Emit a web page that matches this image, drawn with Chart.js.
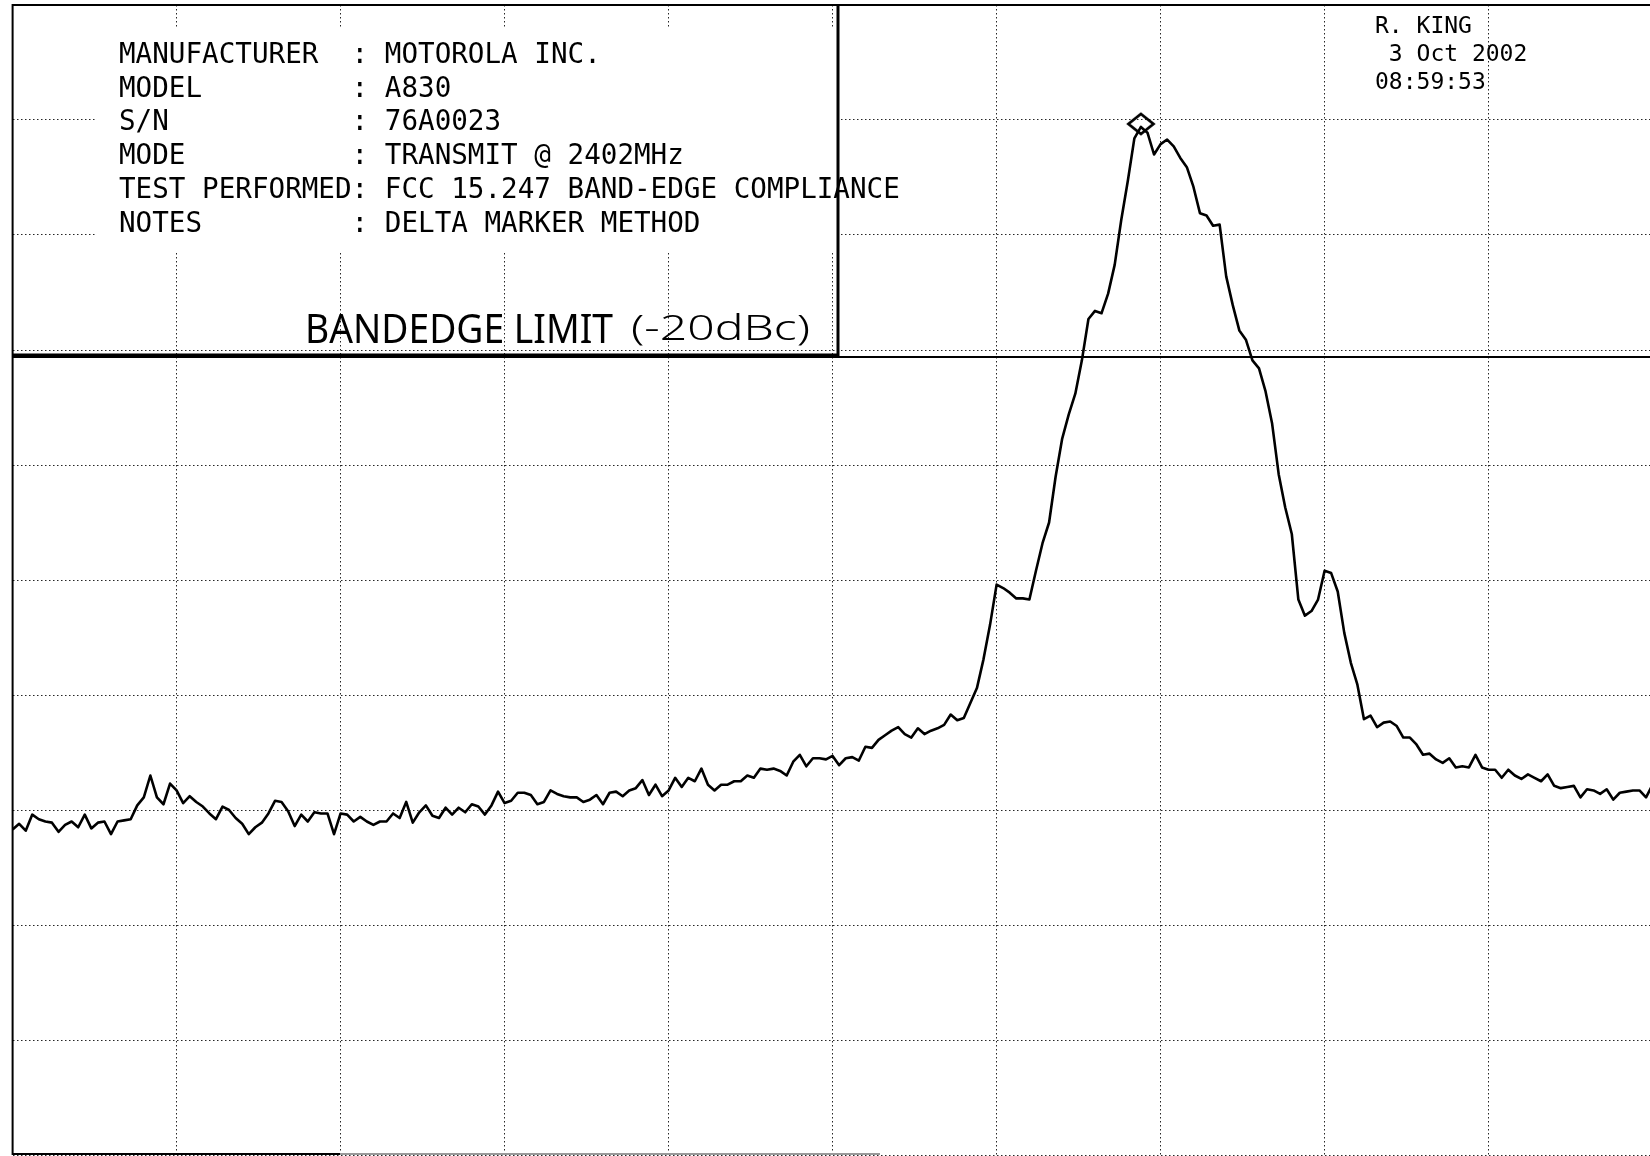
<!DOCTYPE html>
<html>
<head>
<meta charset="utf-8">
<title>FCC 15.247 Band-Edge Compliance – Motorola A830</title>
<script src="https://cdn.jsdelivr.net/npm/chart.js@4.4.1/dist/chart.umd.min.js"></script>
<style>
  html, body { margin: 0; padding: 0; background: #fff; overflow: hidden; }
  #wrap { position: absolute; left: 0; top: 0; width: 1656px; height: 1156px; }
  canvas { display: block; }
</style>
</head>
<body>
<div id="wrap"><canvas id="plot" width="1656" height="1156"></canvas></div>
<script>
// Sweep: 10 MHz span centred on the 2400 MHz band edge, 1 MHz / div, 10 dB / div
const startMHz = 2395;
const stopMHz = 2405;
const gridStepMHz = 1;
const refLevelDb = 0;
const bottomLevelDb = -100;
const gridStepDb = 10;

// Trace level at each sweep point (dB), 251 points across the span
const levelsDb = [
  -71.7, -71.2, -71.8, -70.4, -70.8, -71.0, -71.1, -71.9, -71.3, -71.0,
  -71.5, -70.4, -71.6, -71.1, -71.0, -72.1, -71.0, -70.9, -70.8, -69.6,
  -68.9, -67.0, -68.9, -69.5, -67.7, -68.3, -69.4, -68.8, -69.3, -69.7,
  -70.3, -70.8, -69.7, -70.0, -70.7, -71.2, -72.1, -71.5, -71.1, -70.3,
  -69.2, -69.3, -70.1, -71.4, -70.4, -71.0, -70.2, -70.3, -70.3, -72.1,
  -70.3, -70.4, -71.0, -70.6, -71.0, -71.3, -71.0, -71.0, -70.3, -70.7,
  -69.3, -71.1, -70.2, -69.6, -70.5, -70.7, -69.8, -70.4, -69.8, -70.2,
  -69.5, -69.7, -70.4, -69.6, -68.4, -69.4, -69.2, -68.5, -68.5, -68.7,
  -69.5, -69.3, -68.3, -68.6, -68.8, -68.9, -68.9, -69.3, -69.1, -68.7,
  -69.5, -68.5, -68.4, -68.8, -68.3, -68.1, -67.4, -68.7, -67.8, -68.8,
  -68.3, -67.2, -68.0, -67.2, -67.5, -66.4, -67.8, -68.3, -67.8, -67.8,
  -67.5, -67.5, -67.0, -67.2, -66.4, -66.5, -66.4, -66.6, -67.0, -65.8,
  -65.2, -66.2, -65.5, -65.5, -65.6, -65.3, -66.1, -65.5, -65.4, -65.7,
  -64.5, -64.6, -63.9, -63.5, -63.1, -62.8, -63.4, -63.7, -62.9, -63.4,
  -63.1, -62.9, -62.6, -61.7, -62.2, -62.0, -60.7, -59.4, -56.9, -53.9,
  -50.4, -50.7, -51.1, -51.6, -51.6, -51.7, -49.2, -46.8, -45.0, -41.0,
  -37.7, -35.6, -33.8, -30.9, -27.3, -26.6, -26.8, -25.1, -22.6, -18.7,
  -15.3, -11.6, -10.6, -11.1, -13.0, -12.1, -11.7, -12.3, -13.3, -14.1,
  -15.8, -18.1, -18.3, -19.2, -19.1, -23.6, -26.1, -28.3, -29.1, -30.9,
  -31.6, -33.6, -36.4, -40.8, -43.7, -46.0, -51.7, -53.1, -52.7, -51.7,
  -49.2, -49.4, -51.0, -54.6, -57.2, -59.1, -62.1, -61.8, -62.8, -62.4,
  -62.3, -62.7, -63.7, -63.7, -64.3, -65.2, -65.1, -65.6, -65.9, -65.5,
  -66.3, -66.2, -66.3, -65.2, -66.3, -66.5, -66.5, -67.2, -66.5, -67.0,
  -67.3, -66.9, -67.2, -67.5, -66.9, -67.9, -68.1, -68.0, -67.9, -68.9,
  -68.2, -68.3, -68.6, -68.2, -69.1, -68.5, -68.4, -68.3, -68.3, -68.9, -67.8
];

// Band-edge limit sits 20 dB below the marker peak
const limitOffsetDbc = -20;

// Annotation text
const headerFields = ['MANUFACTURER', 'MODEL', 'S/N', 'MODE', 'TEST PERFORMED', 'NOTES'];
const headerValues = ['MOTOROLA INC.', 'A830', '76A0023', 'TRANSMIT @ 2402MHz',
                      'FCC 15.247 BAND-EDGE COMPLIANCE', 'DELTA MARKER METHOD'];
const stampLines = ['R. KING', ' 3 Oct 2002', '08:59:53'];
const limitNote = 'BANDEDGE LIMIT';
const limitNoteDbc = '(-20dBc)';

// ---- derived series ----
const stepMHz = (stopMHz - startMHz) / (levelsDb.length - 1);
const trace = levelsDb.map((y, i) => ({ x: startMHz + i * stepMHz, y }));
let peakIdx = 0;
levelsDb.forEach((v, i) => { if (v > levelsDb[peakIdx]) peakIdx = i; });
const peakPoint = trace[peakIdx];
const limitDb = peakPoint.y + limitOffsetDbc;
const limitLine = [{ x: startMHz, y: limitDb }, { x: stopMHz, y: limitDb }];

// Diamond marker glyph (drawn a little above its centre, like the analyser's marker)
function makeDiamond() {
  const c = document.createElement('canvas');
  c.width = 32; c.height = 32;
  const g = c.getContext('2d');
  g.strokeStyle = '#000';
  g.lineWidth = 2.8;
  g.lineJoin = 'miter';
  const cx = 16, cy = 13, hw = 12.5, hh = 10;
  g.beginPath();
  g.moveTo(cx, cy - hh); g.lineTo(cx + hw, cy); g.lineTo(cx, cy + hh); g.lineTo(cx - hw, cy);
  g.closePath();
  g.stroke();
  return c;
}

// Fit a string into a given width by scaling horizontally
function fitText(ctx, text, x, baseline, width, font) {
  ctx.save();
  ctx.font = font;
  const w = ctx.measureText(text).width;
  ctx.translate(x, baseline);
  ctx.scale(width / w, 1);
  ctx.fillText(text, 0, 0);
  ctx.restore();
}

// Header panel, graticule frame and annotations
const panelPlugin = {
  id: 'panel',
  afterDraw(chart) {
    const { ctx, chartArea: a } = chart;
    const panelRight = 838, panelBottom = 355;
    ctx.save();

    // blank the graticule behind the text block
    ctx.fillStyle = '#fff';
    ctx.fillRect(95, 27, panelRight - 96, 252 - 27);

    // panel outline
    ctx.strokeStyle = '#000';
    ctx.lineWidth = 3;
    ctx.beginPath();
    ctx.moveTo(panelRight, a.top);
    ctx.lineTo(panelRight, panelBottom);
    ctx.lineTo(a.left, panelBottom);
    ctx.stroke();

    // graticule frame
    ctx.lineWidth = 2;
    ctx.beginPath();
    ctx.moveTo(a.left, a.bottom);
    ctx.lineTo(a.left, a.top);
    ctx.lineTo(a.right, a.top);
    ctx.stroke();
    ctx.beginPath();
    ctx.moveTo(a.left, a.bottom - 1);
    ctx.lineTo(340, a.bottom - 1);
    ctx.stroke();
    ctx.strokeStyle = '#999';
    ctx.beginPath();
    ctx.moveTo(340, a.bottom - 1);
    ctx.lineTo(880, a.bottom - 1);
    ctx.stroke();

    // header text block
    ctx.fillStyle = '#000';
    ctx.textBaseline = 'alphabetic';
    ctx.textAlign = 'left';
    ctx.font = '27.6px "DejaVu Sans Mono", "Liberation Mono", monospace';
    headerFields.forEach((f, i) => {
      const line = f.padEnd(14, ' ') + ': ' + headerValues[i];
      ctx.fillText(line, 119, 63 + i * 33.7);
    });

    // operator / date stamp
    ctx.font = '23px "DejaVu Sans Mono", "Liberation Mono", monospace';
    stampLines.forEach((s, i) => ctx.fillText(s, 1375, 33 + i * 27.8));

    // hand-written limit note
    fitText(ctx, limitNote, 305, 343, 308, '40px "Noto Sans", "DejaVu Sans", sans-serif');
    fitText(ctx, limitNoteDbc, 631, 340, 179, '300 34px "Noto Sans", "DejaVu Sans", sans-serif');

    ctx.restore();
  }
};

const gridColor = 'rgba(0,0,0,0.85)';

new Chart(document.getElementById('plot'), {
  type: 'line',
  data: {
    datasets: [
      {
        label: 'Marker',
        data: [peakPoint],
        showLine: false,
        pointStyle: makeDiamond(),
        pointRadius: 13,
        order: 1
      },
      {
        label: 'Trace',
        data: trace,
        borderColor: '#000',
        borderWidth: 2.6,
        borderJoinStyle: 'round',
        pointRadius: 0,
        tension: 0,
        fill: false,
        order: 2
      },
      {
        label: 'Limit',
        data: limitLine,
        borderColor: '#000',
        borderWidth: 2,
        pointRadius: 0,
        fill: false,
        order: 3
      }
    ]
  },
  options: {
    responsive: false,
    animation: false,
    events: [],
    devicePixelRatio: 1,
    layout: { autoPadding: false, padding: { left: 12.6, right: 3.4, top: 5, bottom: 1 } },
    plugins: { legend: { display: false }, tooltip: { enabled: false } },
    scales: {
      x: {
        type: 'linear',
        min: startMHz,
        max: stopMHz,
        ticks: { display: false, stepSize: gridStepMHz },
        grid: { color: gridColor, lineWidth: 1, drawTicks: false },
        border: { display: false, dash: [1.5, 2.5] },
        afterFit(s) { s.height = 0; }
      },
      y: {
        type: 'linear',
        min: bottomLevelDb,
        max: refLevelDb,
        ticks: { display: false, stepSize: gridStepDb },
        grid: { color: gridColor, lineWidth: 1, drawTicks: false },
        border: { display: false, dash: [1.5, 2.5] },
        afterFit(s) { s.width = 0; }
      }
    }
  },
  plugins: [panelPlugin]
});
</script>
</body>
</html>
